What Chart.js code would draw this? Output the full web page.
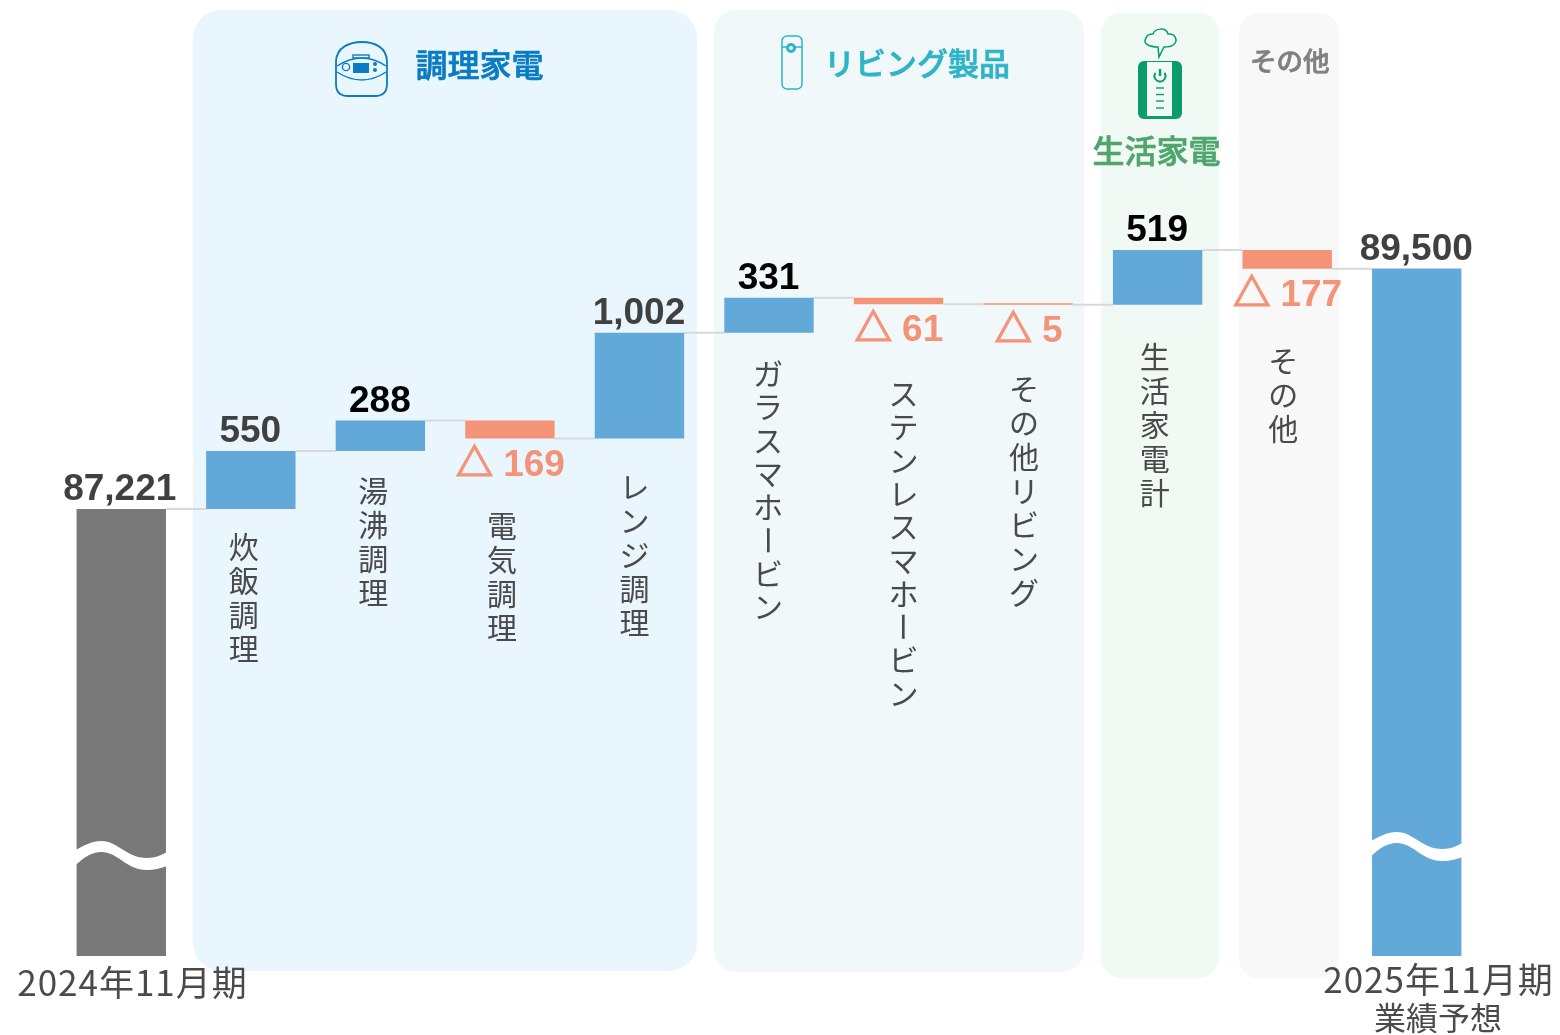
<!DOCTYPE html>
<html lang="ja">
<head>
<meta charset="utf-8">
<title>セグメント別 増減</title>
<script src="https://cdn.jsdelivr.net/npm/chart.js@4/dist/chart.umd.min.js"></script>
<style>
  html, body { margin: 0; padding: 0; background: #fff; }
  canvas { display: block; }
</style>
</head>
<body>
<canvas id="bridgeChart" width="1560" height="1035"></canvas>
<script>
  const categories = ['2024年11月期', '炊飯調理', '湯沸調理', '電気調理', 'レンジ調理', 'ガラスマホービン', 'ステンレスマホービン', 'その他リビング', '生活家電計', 'その他', '2025年11月期'];
  const startValue = 87221;
  const endValue = 89500;
  const deltas = [550, 288, -169, 1002, 331, -61, -5, 519, -177];
  const axisMin = 82985;
  const axisMax = 92045;

  const FONT_JP = '"Noto Sans CJK JP", "Noto Sans", sans-serif';
  const FONT_NUM = '"Liberation Sans", "Noto Sans CJK JP", sans-serif';
  const BLUE = '#62A9DA';
  const GREY = '#787878';
  const SALMON = '#F59379';

  // running totals, one per bar
  const levels = [startValue];
  deltas.forEach(d => levels.push(levels[levels.length - 1] + d));
  levels.push(endValue);

  const barData = categories.map((c, i) => {
    if (i === 0) return [axisMin, startValue];
    if (i === categories.length - 1) return [axisMin, endValue];
    return [levels[i - 1], levels[i]];
  });
  const barColors = categories.map((c, i) => {
    if (i === 0) return GREY;
    if (i === categories.length - 1) return BLUE;
    return deltas[i - 1] < 0 ? SALMON : BLUE;
  });

  // some values are printed in black, the totals in dark grey
  const valueInk = ['#404040', '#404040', '#000', null, '#404040', '#000', null, null, '#000', null, '#404040'];

  function roundRect(ctx, x, y, w, h, r, fill) {
    ctx.beginPath();
    ctx.roundRect(x, y, w, h, r);
    ctx.fillStyle = fill;
    ctx.fill();
  }

  function drawPanels(ctx) {
    roundRect(ctx, 193, 10, 504, 961, 28, '#E9F6FE');
    roundRect(ctx, 714, 10, 370, 962, 22, '#F0F8FA');
    roundRect(ctx, 1101, 13, 118, 965, 20, '#F0F9F3');
    roundRect(ctx, 1239, 13, 100, 965, 20, '#F8F8F8');
  }

  function drawCooker(ctx) {
    const c = '#0A7CC4';
    ctx.save();
    ctx.strokeStyle = c;
    ctx.fillStyle = c;
    ctx.lineWidth = 1.8;
    ctx.beginPath();
    ctx.moveTo(336, 62);
    ctx.bezierCurveTo(336, 47, 350, 42, 362, 42);
    ctx.bezierCurveTo(374, 42, 387, 47, 387, 62);
    ctx.lineTo(387, 84);
    ctx.quadraticCurveTo(387, 96, 375, 96);
    ctx.lineTo(348, 96);
    ctx.quadraticCurveTo(336, 96, 336, 84);
    ctx.closePath();
    ctx.stroke();
    ctx.lineWidth = 1.4;
    ctx.beginPath();
    ctx.moveTo(337, 66);
    ctx.quadraticCurveTo(362, 50, 386, 66);
    ctx.moveTo(337, 72);
    ctx.quadraticCurveTo(362, 88, 386, 72);
    ctx.stroke();
    ctx.strokeRect(353, 55, 16, 3);
    ctx.beginPath();
    ctx.arc(346, 67, 3.6, 0, Math.PI * 2);
    ctx.stroke();
    ctx.fillRect(353, 63, 16, 10);
    ctx.beginPath();
    ctx.arc(375, 64, 2, 0, Math.PI * 2);
    ctx.fill();
    ctx.beginPath();
    ctx.arc(375, 70, 2, 0, Math.PI * 2);
    ctx.fill();
    ctx.restore();
  }

  function drawBottle(ctx) {
    const c = '#2FB3C6';
    ctx.save();
    ctx.strokeStyle = c;
    ctx.fillStyle = c;
    ctx.lineWidth = 1.5;
    ctx.beginPath();
    ctx.roundRect(782, 36, 20, 53, 5);
    ctx.stroke();
    ctx.beginPath();
    ctx.moveTo(782, 47);
    ctx.lineTo(802, 47);
    ctx.stroke();
    ctx.beginPath();
    ctx.arc(791, 48, 5, 0, Math.PI * 2);
    ctx.fill();
    ctx.beginPath();
    ctx.arc(791, 48, 2, 0, Math.PI * 2);
    ctx.fillStyle = '#F0F8FA';
    ctx.fill();
    ctx.restore();
  }

  function drawSteamer(ctx) {
    const c = '#0A9C6C';
    ctx.save();
    roundRect(ctx, 1138, 61, 44, 58, 6, c);
    ctx.fillStyle = '#F0F9F3';
    ctx.fillRect(1147, 62, 25, 54);
    ctx.strokeStyle = c;
    ctx.lineWidth = 2;
    ctx.beginPath();
    ctx.arc(1160, 76, 5.5, -0.2 * Math.PI, 1.2 * Math.PI);
    ctx.stroke();
    ctx.lineWidth = 2.5;
    ctx.beginPath();
    ctx.moveTo(1160, 69);
    ctx.lineTo(1160, 76);
    ctx.stroke();
    ctx.lineWidth = 1.4;
    [88, 94.5, 101, 108].forEach(y => {
      ctx.beginPath();
      ctx.moveTo(1156, y);
      ctx.lineTo(1164, y);
      ctx.stroke();
    });
    // steam cloud
    ctx.lineWidth = 1.5;
    ctx.beginPath();
    ctx.moveTo(1158, 47);
    ctx.bezierCurveTo(1150, 47, 1142, 44, 1146, 38);
    ctx.bezierCurveTo(1147, 34, 1151, 34, 1153, 34);
    ctx.bezierCurveTo(1155, 28, 1166, 27, 1168, 34);
    ctx.bezierCurveTo(1175, 33, 1179, 41, 1173, 45);
    ctx.bezierCurveTo(1171, 47, 1167, 47, 1164, 47);
    ctx.lineTo(1159, 57);
    ctx.closePath();
    ctx.strokeStyle = c;
    ctx.stroke();
    ctx.restore();
  }

  // medium weight plus a hairline stroke sits closest to the heavier original
  function drawHeader(ctx, text, size, color, x, y) {
    ctx.font = '500 ' + size + 'px ' + FONT_JP;
    ctx.fillStyle = color;
    ctx.strokeStyle = color;
    ctx.lineWidth = 0.7;
    ctx.fillText(text, x, y);
    ctx.strokeText(text, x, y);
  }

  function drawHeaders(ctx) {
    ctx.textAlign = 'left';
    ctx.textBaseline = 'middle';
    drawHeader(ctx, '調理家電', 32, '#0A7CC4', 415.5, 65);
    drawHeader(ctx, 'リビング製品', 31, '#2FB3C6', 824, 63);
    drawHeader(ctx, '生活家電', 32, '#4FA66D', 1092.5, 151);
    drawHeader(ctx, 'その他', 26.5, '#808080', 1250, 61);
  }

  // stacked vertical text; the long-vowel mark has to be turned for vertical setting
  function drawVertical(ctx, text, x, top, pitch) {
    ctx.font = '30px ' + FONT_JP;
    ctx.fillStyle = '#4A4A4A';
    ctx.textAlign = 'center';
    ctx.textBaseline = 'middle';
    Array.from(text).forEach((ch, i) => {
      const y = top + pitch * i + pitch / 2;
      if (ch === 'ー') {
        ctx.save();
        ctx.translate(x, y);
        ctx.rotate(Math.PI / 2);
        ctx.fillText(ch, 0, 0);
        ctx.restore();
      } else {
        ctx.fillText(ch, x, y);
      }
    });
  }

  // white wavy cut on the two total bars, marks the broken axis
  function drawBreak(ctx, bar, dy) {
    const l = bar.x - bar.width / 2 - 1;
    const w = bar.width + 2;
    const px = f => l + w * f;
    ctx.beginPath();
    ctx.moveTo(px(0), 850 + dy);
    ctx.bezierCurveTo(px(0.1), 845 + dy, px(0.18), 841 + dy, px(0.28), 841 + dy);
    ctx.bezierCurveTo(px(0.47), 841 + dy, px(0.55), 858 + dy, px(0.78), 858 + dy);
    ctx.bezierCurveTo(px(0.87), 858 + dy, px(0.94), 855 + dy, px(1), 852 + dy);
    ctx.lineTo(px(1), 866 + dy);
    ctx.bezierCurveTo(px(0.94), 868 + dy, px(0.87), 870 + dy, px(0.78), 870 + dy);
    ctx.bezierCurveTo(px(0.55), 870 + dy, px(0.47), 852 + dy, px(0.28), 852 + dy);
    ctx.bezierCurveTo(px(0.18), 852 + dy, px(0.1), 857 + dy, px(0), 865 + dy);
    ctx.closePath();
    ctx.fillStyle = '#fff';
    ctx.fill();
  }

  // triangle glyph comes out thin from the fallback font, so it gets an extra stroke
  function drawDrop(ctx, value, x, y) {
    const digits = ' ' + Math.abs(value);
    const tw = ctx.measureText('△').width;
    const left = x - (tw + ctx.measureText(digits).width) / 2;
    ctx.textAlign = 'left';
    ctx.fillStyle = SALMON;
    ctx.strokeStyle = SALMON;
    ctx.lineWidth = 1.6;
    ctx.fillText('△', left, y);
    ctx.strokeText('△', left, y);
    ctx.fillText(digits, left + tw, y);
    ctx.textAlign = 'center';
  }

  const bridgePlugin = {
    id: 'bridge',
    beforeDatasetsDraw(chart) {
      const ctx = chart.ctx;
      const yScale = chart.scales.y;
      const bars = chart.getDatasetMeta(0).data;
      ctx.save();
      drawPanels(ctx);
      ctx.strokeStyle = '#D9D9D9';
      ctx.lineWidth = 2;
      for (let i = 0; i < bars.length - 1; i++) {
        const y = yScale.getPixelForValue(levels[i]);
        ctx.beginPath();
        ctx.moveTo(bars[i].x + bars[i].width / 2, y);
        ctx.lineTo(bars[i + 1].x - bars[i + 1].width / 2, y);
        ctx.stroke();
      }
      ctx.restore();
    },
    afterDatasetsDraw(chart) {
      const ctx = chart.ctx;
      const yScale = chart.scales.y;
      const bars = chart.getDatasetMeta(0).data;
      ctx.save();
      drawBreak(ctx, bars[0], 0);
      drawBreak(ctx, bars[bars.length - 1], -9);
      drawCooker(ctx);
      drawBottle(ctx);
      drawSteamer(ctx);
      drawHeaders(ctx);

      // values above / below the bars
      ctx.font = 'bold 37px ' + FONT_NUM;
      ctx.textAlign = 'center';
      ctx.textBaseline = 'middle';
      const printed = [startValue].concat(deltas, [endValue]);
      printed.forEach((v, i) => {
        const x = bars[i].x;
        const y = yScale.getPixelForValue(levels[i]);
        if (v < 0) {
          drawDrop(ctx, v, x + 0.5, y + 27);
        } else {
          ctx.fillStyle = valueInk[i];
          ctx.fillText(v.toLocaleString('en-US'), i === 0 ? x - 1.5 : x - 0.5, y - 19);
        }
      });

      // dx from the bar centre, top of the first character, character pitch
      const verticals = [
        [1, -7, 530, 34], [2, -7, 474, 34], [3, -8, 509, 34], [4, -5, 470, 34],
        [5, -1, 357, 33.3], [6, 5, 377, 33.3], [7, -4, 372, 34], [8, -3, 340, 34], [9, -4, 344, 34]
      ];
      verticals.forEach(v => drawVertical(ctx, categories[v[0]], bars[v[0]].x + v[1], v[2], v[3]));

      // year captions under the totals
      ctx.font = '35px ' + FONT_JP;
      ctx.letterSpacing = '1px';
      ctx.fillStyle = '#4A4A4A';
      ctx.textAlign = 'center';
      ctx.textBaseline = 'middle';
      ctx.fillText(categories[0], 132.5, 983);
      ctx.fillText(categories[categories.length - 1], 1438.5, 980);
      ctx.letterSpacing = '0px';
      ctx.font = '32px ' + FONT_JP;
      ctx.fillText('業績予想', 1438, 1018);
      ctx.restore();
    }
  };

  new Chart(document.getElementById('bridgeChart').getContext('2d'), {
    type: 'bar',
    data: {
      labels: categories,
      datasets: [{
        data: barData,
        backgroundColor: barColors,
        borderWidth: 0,
        borderSkipped: false,
        minBarLength: 1.5,
        barPercentage: 0.69,
        categoryPercentage: 1
      }]
    },
    options: {
      responsive: false,
      animation: false,
      layout: { padding: { left: 56.5, right: 78.5, top: 0, bottom: 79 } },
      scales: {
        x: { display: false },
        y: { display: false, min: axisMin, max: axisMax }
      },
      plugins: {
        legend: { display: false },
        tooltip: { enabled: false },
        title: { display: false }
      }
    },
    plugins: [bridgePlugin]
  });
</script>
</body>
</html>
